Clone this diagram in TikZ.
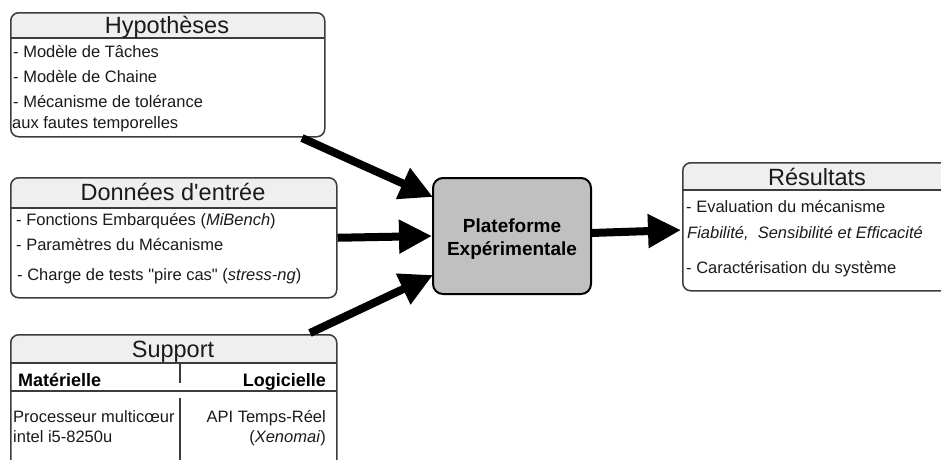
\documentclass[tikz,border=0pt]{standalone}
\usepackage{fontspec}
\setmainfont{Liberation Sans}[Ligatures=TeXOff]
\usetikzlibrary{arrows.meta}
\definecolor{boxc}{HTML}{3C3C3C}
\definecolor{hdrc}{HTML}{EFEFEF}
\definecolor{platc}{HTML}{C0C0C0}
\definecolor{txtc}{HTML}{1A1A1A}
\tikzset{
  boxline/.style={draw=boxc, line width=1.5pt, rounded corners=8pt},
  sepline/.style={draw=boxc, line width=1.5pt},
  hdrfill/.style={fill=hdrc},
  bodytxt/.style={font=\fontsize{16.5}{19}\selectfont, inner sep=0pt, anchor=base west, text=txtc},
  bodyr/.style={font=\fontsize{16.5}{19}\selectfont, inner sep=0pt, anchor=base east, text=txtc},
  titletxt/.style={font=\fontsize{23.5}{27}\selectfont, inner sep=0pt, anchor=base, text=txtc},
  boldtxt/.style={font=\fontsize{19}{22}\selectfont\bfseries, inner sep=0pt, text=black},
  bigarrow/.style={line width=8pt, -{Triangle[length=33pt,width=32pt]}},
}
\begin{document}
\begin{tikzpicture}[x=1pt,y=-1pt]
\useasboundingbox (0,0) rectangle (941,459);

% ---------- Hypotheses
\begin{scope}
\clip[rounded corners=8pt] (10,12) rectangle (324,136);
\fill[hdrfill] (10,12) rectangle (324,38);
\end{scope}
\node[boxline, minimum width=314pt, minimum height=124pt, anchor=north west, inner sep=0pt] (hyp) at (10,12) {};
\draw[sepline] (10,38) -- (324,38);
\node[titletxt] (hypt) at (167,33) {Hypothèses};
\node[bodytxt] (hyp1) at (13,57) {- Modèle de Tâches};
\node[bodytxt] (hyp2) at (13,82) {- Modèle de Chaine};
\node[bodytxt] (hyp3) at (13,107) {- Mécanisme de tolérance};
\node[bodytxt] (hyp4) at (12,128) {aux fautes temporelles};

% ---------- Donnees
\begin{scope}
\clip[rounded corners=8pt] (10,177) rectangle (336,297);
\fill[hdrfill] (10,177) rectangle (336,208);
\end{scope}
\node[boxline, minimum width=326pt, minimum height=120pt, anchor=north west, inner sep=0pt] (don) at (10,177) {};
\draw[sepline] (10,208) -- (336,208);
\node[titletxt] (dont) at (173,200) {Données d'entrée};
\node[bodytxt] (don1) at (16,225) {- Fonctions Embarquées (\textit{MiBench})};
\node[bodytxt] (don2) at (16,250) {- Paramètres du Mécanisme};
\node[bodytxt] (don3) at (17,280) {- Charge de tests "pire cas" (\textit{stress-ng})};

% ---------- Support
\begin{scope}
\clip[rounded corners=8pt] (10,334) rectangle (336,475);
\fill[hdrfill] (10,334) rectangle (336,363);
\end{scope}
\node[boxline, minimum width=326pt, minimum height=141pt, anchor=north west, inner sep=0pt] (sup) at (10,334) {};
\draw[sepline] (10,363) -- (336,363);
\node[titletxt] (supt) at (173,357) {Support};
\draw[boxc, line width=1.2pt] (180,364) -- (180,383);
\draw[boxc, line width=1.2pt] (180,398) -- (180,475);
\draw[sepline] (10,391) -- (336,391);
\node[bodytxt, font=\fontsize{18}{21}\selectfont\bfseries, text=black] (mat) at (18,386) {Matérielle};
\node[bodyr, font=\fontsize{18}{21}\selectfont\bfseries, text=black] (log) at (326,386) {Logicielle};
\node[bodytxt] (proc1) at (13,422) {Processeur multicœur};
\node[bodytxt] (proc2) at (13,442) {intel i5-8250u};
\node[bodyr] (api1) at (326,422) {API Temps-Réel};
\node[bodyr] (api2) at (326,442) {(\textit{Xenomai})};

% ---------- Resultats
\begin{scope}
\clip[rounded corners=8pt] (682,162) rectangle (952,290);
\fill[hdrfill] (682,162) rectangle (952,190);
\end{scope}
\node[boxline, minimum width=270pt, minimum height=128pt, anchor=north west, inner sep=0pt] (res) at (682,162) {};
\draw[sepline] (682,190) -- (952,190);
\node[titletxt] (rest) at (817,185) {Résultats};
\node[bodytxt] (res1) at (686,212) {- Evaluation du mécanisme};
\node[bodytxt] (res2) at (687,238) {\textit{Fiabilité,\ \ Sensibilité et Efficacité}};
\node[bodytxt] (res3) at (686,273) {- Caractérisation du système};

% ---------- Plateforme
\node[draw=black, line width=2pt, fill=platc, rounded corners=10pt, minimum width=158pt, minimum height=116pt, inner sep=0pt] (plat) at (512,236) {};
\node[boldtxt, anchor=base] (plat1) at (512,232) {Plateforme};
\node[boldtxt, anchor=base] (plat2) at (512,255) {Expérimentale};

% ---------- Arrows
\coordinate (a1s) at (302,138);
\coordinate (a1e) at (433,197);
\coordinate (a3s) at (310,333);
\coordinate (a3e) at (433,275);
\coordinate (a4s) at (591,233);
\coordinate (a4e) at (681,230);
\draw[bigarrow] (a1s) -- (a1e);
\draw[bigarrow] (don.east) -- (plat.west);
\draw[bigarrow] (a3s) -- (a3e);
\draw[bigarrow] (a4s) -- (a4e);
\end{tikzpicture}
\end{document}
